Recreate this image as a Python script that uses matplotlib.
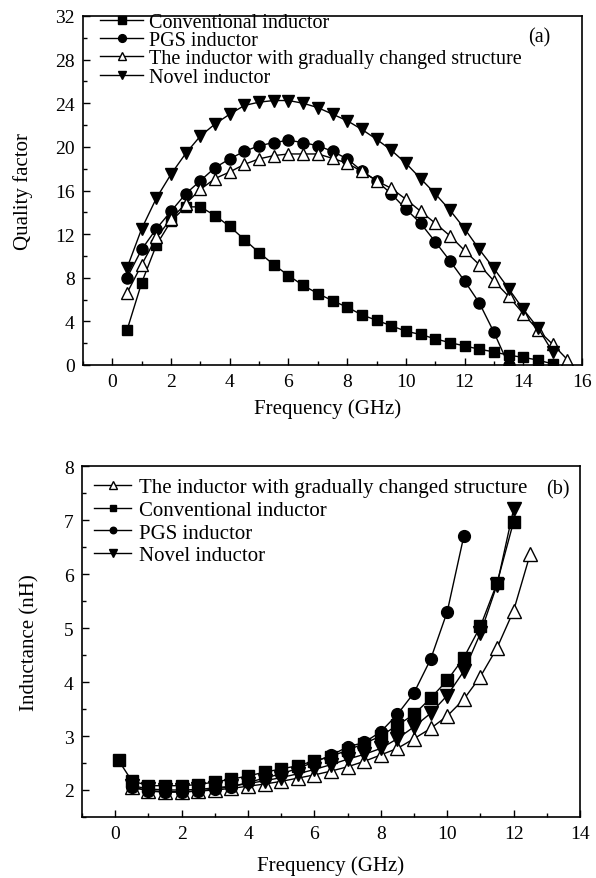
import matplotlib
matplotlib.use("Agg")
import matplotlib.pyplot as plt
from matplotlib.ticker import MultipleLocator

plt.rcParams['font.family'] = ['Liberation Serif', 'DejaVu Serif']
plt.rcParams['mathtext.fontset'] = 'stix'

# ---------------- Panel (a): Quality factor ----------------
freq_a = [0.5, 1.0, 1.5, 2.0, 2.5, 3.0, 3.5, 4.0, 4.5, 5.0, 5.5, 6.0, 6.5, 7.0, 7.5,
          8.0, 8.5, 9.0, 9.5, 10.0, 10.5, 11.0, 11.5, 12.0, 12.5, 13.0, 13.5, 14.0,
          14.5, 15.0, 15.5]

q_conventional = [3.2, 7.55, 11.0, 13.2, 14.5, 14.5, 13.7, 12.7, 11.5, 10.3, 9.2, 8.2,
                  7.3, 6.55, 5.9, 5.3, 4.6, 4.1, 3.6, 3.1, 2.8, 2.4, 2.05, 1.75, 1.45,
                  1.2, 0.9, 0.7, 0.45, 0.1]
q_pgs = [8.0, 10.6, 12.5, 14.1, 15.7, 16.9, 18.1, 18.9, 19.6, 20.1, 20.4, 20.6, 20.4,
         20.1, 19.6, 18.9, 17.8, 16.9, 15.7, 14.3, 13.0, 11.3, 9.55, 7.7, 5.7, 3.0, 0.0]
q_gradual = [6.6, 9.2, 11.7, 13.4, 14.8, 16.1, 17.1, 17.7, 18.4, 18.9, 19.2, 19.35,
             19.35, 19.35, 18.95, 18.5, 17.75, 16.9, 16.2, 15.2, 14.1, 13.0, 11.85,
             10.5, 9.2, 7.7, 6.3, 4.7, 3.2, 1.9, 0.5]
q_novel = [8.9, 12.5, 15.3, 17.5, 19.4, 21.0, 22.1, 23.0, 23.8, 24.1, 24.25, 24.25,
           24.0, 23.6, 23.0, 22.4, 21.6, 20.7, 19.7, 18.5, 17.1, 15.7, 14.2, 12.5,
           10.6, 8.85, 7.0, 5.1, 3.4, 1.2]

labels_a = ['Conventional inductor', 'PGS inductor',
            'The inductor with gradually changed structure', 'Novel inductor']

# ---------------- Panel (b): Inductance ----------------
freq_b = [0.5, 1.0, 1.5, 2.0, 2.5, 3.0, 3.5, 4.0, 4.5, 5.0, 5.5, 6.0, 6.5, 7.0, 7.5,
          8.0, 8.5, 9.0, 9.5, 10.0, 10.5, 11.0, 11.5, 12.0, 12.5]
freq_b_conv = [0.1] + freq_b

l_gradual = [2.05, 1.99, 1.97, 1.97, 1.98, 2.0, 2.03, 2.07, 2.11, 2.16, 2.22, 2.28,
             2.35, 2.43, 2.53, 2.65, 2.77, 2.95, 3.14, 3.37, 3.68, 4.1, 4.63, 5.32, 6.37]
l_conventional = [2.55, 2.17, 2.08, 2.08, 2.08, 2.1, 2.15, 2.2, 2.26, 2.33, 2.39, 2.45,
                  2.54, 2.62, 2.74, 2.86, 3.0, 3.2, 3.4, 3.7, 4.03, 4.45, 5.03, 5.83, 6.97]
l_pgs = [2.06, 1.98, 1.96, 1.96, 1.98, 2.02, 2.06, 2.14, 2.22, 2.3, 2.4, 2.52, 2.64,
         2.8, 2.88, 3.08, 3.4, 3.8, 4.42, 5.3, 6.7]
l_novel = [2.08, 2.02, 2.0, 2.0, 2.01, 2.04, 2.07, 2.12, 2.17, 2.23, 2.3, 2.38, 2.47,
           2.57, 2.66, 2.77, 2.95, 3.17, 3.42, 3.75, 4.2, 4.9, 5.8, 7.2]

labels_b = ['The inductor with gradually changed structure', 'Conventional inductor',
            'PGS inductor', 'Novel inductor']

W, H = 596, 879
fig = plt.figure(figsize=(W / 100, H / 100), dpi=100)

def px_axes(l, t, r, b):
    return fig.add_axes([l / W, 1 - b / H, (r - l) / W, (b - t) / H])

axa = px_axes(83, 17, 582, 366)
axb = px_axes(82, 467, 580, 818)

lw = 1.0
kw = dict(color='black', lw=lw, markeredgecolor='black')

axa.plot(freq_a[:len(q_conventional)], q_conventional, marker='s', ms=7.5,
         mfc='black', label=labels_a[0], **kw)
axa.plot(freq_a[:len(q_pgs)], q_pgs, marker='o', ms=8, mfc='black',
         label=labels_a[1], **kw)
axa.plot(freq_a[:len(q_gradual)], q_gradual, marker='^', ms=9, mfc='white',
         mew=1.0, label=labels_a[2], **kw)
axa.plot(freq_a[:len(q_novel)], q_novel, marker='v', ms=9, mfc='black',
         label=labels_a[3], **kw)

axa.set_xlim(-1, 16)
axa.set_ylim(0, 32)
axa.xaxis.set_major_locator(MultipleLocator(2))
axa.xaxis.set_minor_locator(MultipleLocator(1))
axa.yaxis.set_major_locator(MultipleLocator(4))
axa.yaxis.set_minor_locator(MultipleLocator(2))
axa.set_xlabel('Frequency (GHz)', fontsize=15)
axa.set_ylabel('Quality factor', fontsize=15)
axa.xaxis.set_label_coords(0.49, -0.095)
axa.yaxis.set_label_coords(-0.10, 0.5)
leg = axa.legend(loc='upper left', bbox_to_anchor=(0.035, 1.008), frameon=False,
                 fontsize=14.5, handlelength=2.1, handletextpad=0.3,
                 labelspacing=-0.05, borderpad=0, borderaxespad=0, markerscale=0.7)
axa.text(0.915, 0.94, '(a)', transform=axa.transAxes, fontsize=14.5,
         ha='center', va='center')

axb.plot(freq_b[:len(l_gradual)], l_gradual, marker='^', ms=10, mfc='white',
         mew=1.0, label=labels_b[0], **kw)
axb.plot(freq_b_conv[:len(l_conventional)], l_conventional, marker='s', ms=8,
         mfc='black', label=labels_b[1], **kw)
axb.plot(freq_b[:len(l_pgs)], l_pgs, marker='o', ms=8.5, mfc='black',
         label=labels_b[2], **kw)
axb.plot(freq_b[:len(l_novel)], l_novel, marker='v', ms=9.5, mfc='black',
         label=labels_b[3], **kw)

axb.set_xlim(-1, 14)
axb.set_ylim(1.5, 8)
axb.xaxis.set_major_locator(MultipleLocator(2))
axb.xaxis.set_minor_locator(MultipleLocator(1))
axb.yaxis.set_major_locator(MultipleLocator(1))
axb.yaxis.set_minor_locator(MultipleLocator(0.5))
axb.set_xlabel('Frequency (GHz)', fontsize=15)
axb.set_ylabel('Inductance (nH)', fontsize=15)
axb.xaxis.set_label_coords(0.5, -0.11)
axb.yaxis.set_label_coords(-0.086, 0.5)
axb.legend(loc='upper left', bbox_to_anchor=(0.025, 0.967), frameon=False,
           fontsize=15, handlelength=1.75, handletextpad=0.4,
           labelspacing=0.15, borderpad=0, borderaxespad=0, markerscale=0.55)
axb.text(0.955, 0.935, '(b)', transform=axb.transAxes, fontsize=14.5,
         ha='center', va='center')

for ax in (axa, axb):
    for s in ax.spines.values():
        s.set_linewidth(1.2)
    ax.tick_params(which='both', direction='in', top=False, right=False,
                   labelsize=14, width=1.0)
    ax.tick_params(which='major', length=5, pad=6)
    ax.tick_params(which='minor', length=3)

fig.savefig('out.png', dpi=100)
